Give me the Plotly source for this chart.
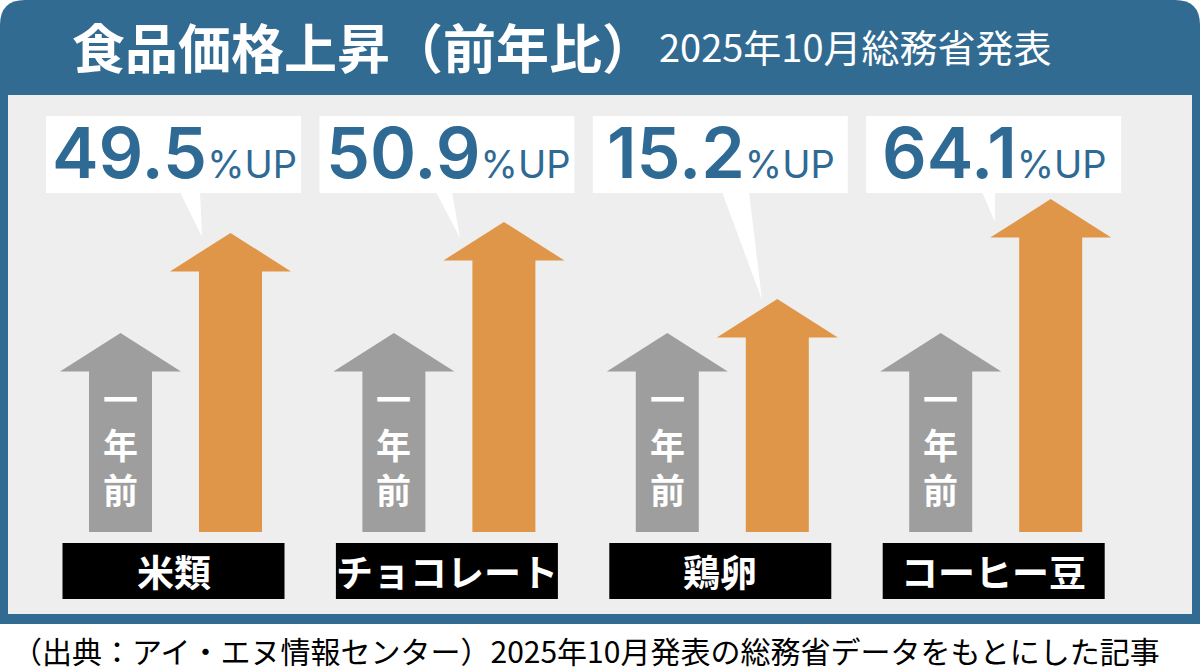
import plotly.graph_objects as go

# ---------------- data ----------------
categories = ["米類", "チョコレート", "鶏卵", "コーヒー豆"]
pct_up = [49.5, 50.9, 15.2, 64.1]              # % rise vs. a year ago
year_ago_level = [100, 100, 100, 100]          # grey arrow level (index)
now_level = [150.3, 155.8, 117.1, 167.3]       # orange arrow level as drawn
year_ago_text = "一<br>年<br>前"
title_text = "食品価格上昇（前年比）"
subtitle_text = "2025年10月総務省発表"
footer_text = "（出典：アイ・エヌ情報センター）2025年10月発表の総務省データをもとにした記事"

# ---------------- geometry / style ----------------
W, H = 1200, 672
X0, U = 175.5, 273.4      # pixel x of category 0 centre, pixels per category
Y0, K = 532.0, 1.99       # pixel y of level 0, pixels per level unit

BLUE = "#326b92"
TEXT_BLUE = "#2e6a94"
PANEL = "#eeeeee"
ORANGE = "#e09648"
GREY = "#9e9e9e"
JP = "Noto Sans CJK JP"


def pxp(x):
    return x / W


def pyp(y):
    return 1 - y / H


def arrow(cx, top, shaft_half, head_half, head_h):
    xs = [cx - shaft_half, cx - shaft_half, cx - head_half, cx, cx + head_half,
          cx + shaft_half, cx + shaft_half, cx - shaft_half]
    ys = [0, top - head_h, top - head_h, top, top - head_h, top - head_h, 0, 0]
    return xs, ys


shaft_half = 31.5 / U
head_half = 60.5 / U
head_h = 38.5 / K
pair_off = 55 / U

fig = go.Figure()

for i, cat in enumerate(categories):
    gx, gy = arrow(i - pair_off, year_ago_level[i], shaft_half, head_half, head_h)
    fig.add_trace(go.Scatter(x=gx, y=gy, mode="lines", fill="toself",
                             fillcolor=GREY, line=dict(width=0, color=GREY),
                             hoverinfo="skip", showlegend=False))
    ox, oy = arrow(i + pair_off, now_level[i], shaft_half, head_half, head_h)
    fig.add_trace(go.Scatter(x=ox, y=oy, mode="lines", fill="toself",
                             fillcolor=ORANGE, line=dict(width=0, color=ORANGE),
                             hoverinfo="skip", showlegend=False))

shapes = []
# blue frame with rounded top corners
r = 25
frame_pts = f"M{pxp(0)},{pyp(624)} L{pxp(0)},{pyp(r)} Q{pxp(0)},{pyp(0)} {pxp(r)},{pyp(0)} " \
            f"L{pxp(W - r)},{pyp(0)} Q{pxp(W)},{pyp(0)} {pxp(W)},{pyp(r)} L{pxp(W)},{pyp(624)} Z"
shapes.append(dict(type="path", xref="paper", yref="paper", path=frame_pts,
                   fillcolor=BLUE, line=dict(width=0), layer="below"))
# grey inner panel
shapes.append(dict(type="rect", xref="paper", yref="paper", x0=pxp(8), x1=pxp(1192),
                   y0=pyp(614), y1=pyp(95), fillcolor=PANEL, line=dict(width=0), layer="below"))

# callout tail tips (pixels) and base spans
tails = [((180, 200), (202, 237)),
         ((436, 452), (460, 238)),
         ((722, 749), (762, 300)),
         ((982, 995), (995, 222))]

annotations = []
for i, cat in enumerate(categories):
    cpx = X0 + U * i - 2
    # white value box
    shapes.append(dict(type="rect", xref="paper", yref="paper", x0=pxp(cpx - 127.5), x1=pxp(cpx + 127.5),
                       y0=pyp(193), y1=pyp(116), fillcolor="white", line=dict(width=0), layer="below"))
    (b0, b1), (tx, ty) = tails[i]
    shapes.append(dict(type="path", xref="paper", yref="paper",
                       path=f"M{pxp(b0)},{pyp(192)} L{pxp(b1)},{pyp(192)} L{pxp(tx)},{pyp(ty)} Z",
                       fillcolor="white", line=dict(width=0), layer="below"))
    # black category box
    shapes.append(dict(type="rect", xref="paper", yref="paper", x0=pxp(cpx - 111), x1=pxp(cpx + 111),
                       y0=pyp(599), y1=pyp(543), fillcolor="black", line=dict(width=0), layer="below"))
    annotations.append(dict(xref="paper", yref="paper", x=pxp(cpx), y=pyp(571), showarrow=False,
                            text=cat, xanchor="center", yanchor="middle",
                            font=dict(family=JP, size=37, color="white", weight="bold")))
    annotations.append(dict(xref="paper", yref="paper", x=pxp(cpx + 1), y=pyp(153), showarrow=False,
                            text=f"<span style='font-size:70px;font-weight:600'>{pct_up[i]:.1f}</span>"
                                 f"<span style='font-size:38px;font-weight:400'>%UP</span>",
                            xanchor="center", yanchor="middle",
                            font=dict(family="Inter", size=70, color=TEXT_BLUE)))
    annotations.append(dict(xref="x", yref="paper", x=i - pair_off, y=pyp(443), showarrow=False,
                            text=year_ago_text, xanchor="center", yanchor="middle",
                            font=dict(family=JP, size=35, color="white", weight="bold")))

annotations.append(dict(xref="paper", yref="paper", x=pxp(363), y=pyp(46), showarrow=False,
                        text=title_text, xanchor="center", yanchor="middle",
                        font=dict(family=JP, size=53, color="white", weight="bold")))
annotations.append(dict(xref="paper", yref="paper", x=pxp(855), y=pyp(46), showarrow=False,
                        text=subtitle_text, xanchor="center", yanchor="middle",
                        font=dict(family=JP, size=38, color="white")))
annotations.append(dict(xref="paper", yref="paper", x=pxp(586), y=pyp(650), showarrow=False,
                        text=footer_text, xanchor="center", yanchor="middle",
                        font=dict(family=JP, size=30, color="black")))

fig.update_layout(
    width=W, height=H, margin=dict(l=0, r=0, t=0, b=0, pad=0),
    paper_bgcolor="white", plot_bgcolor="rgba(0,0,0,0)",
    xaxis=dict(range=[(0 - X0) / U, (W - X0) / U], visible=False, fixedrange=True),
    yaxis=dict(range=[(Y0 - H) / K, Y0 / K], visible=False, fixedrange=True),
    shapes=shapes, annotations=annotations, showlegend=False,
)

fig.write_html("out.html", config={"displayModeBar": False},
               post_script="document.body.style.margin='0';document.body.style.overflow='hidden';")
